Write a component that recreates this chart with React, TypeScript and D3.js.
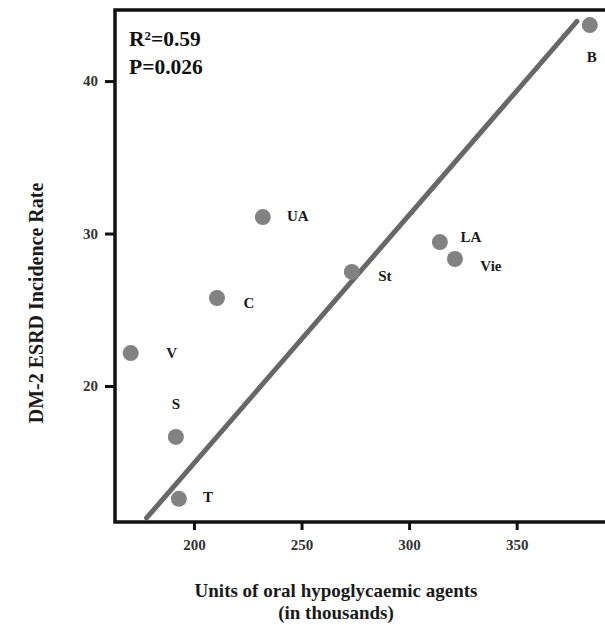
import React, { useEffect, useRef } from "react";
import * as d3 from "d3";

// regions
const regions = ["V", "S", "T", "C", "UA", "St", "LA", "Vie", "B"];
const units = [170.6, 191.6, 193, 210.7, 232, 273.4, 314.3, 321.3, 384];
const esrdRate = [22.16, 16.66, 12.6, 25.77, 31.08, 27.48, 29.44, 28.33, 43.67];

const xTicks = [200, 250, 300, 350];
const yTicks = [20, 30, 40];

// fitted line as drawn in the figure
const fitSlope = 0.1628;
const fitIntercept = -17.63;
const fitRange = [178, 378];

const statsText = ["R²=0.59", "P=0.026"];

// where each name sits next to its dot (px)
const labelOffset: Record<string, [number, number]> = {
  V: [41, 0],
  S: [0, -33],
  T: [29, -2],
  C: [32, 5],
  UA: [35, -1],
  St: [33, 4],
  LA: [31, -5],
  Vie: [36, 7],
  B: [2, 32],
};

const FONT = "'Liberation Serif', 'Times New Roman', serif";

export default function App() {
  const ref = useRef<SVGSVGElement>(null);

  useEffect(() => {
    const width = 605;
    const height = 625;
    const frame = { left: 115, top: 10, right: 618, bottom: 522 };

    const svg = d3.select(ref.current);
    svg.selectAll("*").remove();

    const x = d3.scaleLinear().domain([163.3, 397.1]).range([frame.left, frame.right]);
    const y = d3.scaleLinear().domain([11.08, 44.66]).range([frame.bottom, frame.top]);

    svg.append("rect").attr("width", width).attr("height", height).attr("fill", "#fff");

    // axes with outward ticks
    const xAxis = d3.axisBottom(x).tickValues(xTicks).tickSize(8).tickSizeOuter(0).tickPadding(9);
    const yAxis = d3.axisLeft(y).tickValues(yTicks).tickSize(10).tickSizeOuter(0).tickPadding(7);

    const gx = svg.append("g").attr("transform", `translate(0, ${frame.bottom})`).call(xAxis);
    const gy = svg.append("g").attr("transform", `translate(${frame.left}, 0)`).call(yAxis);

    [gx, gy].forEach((g) => {
      g.select(".domain").remove();
      g.selectAll(".tick line").attr("stroke", "#111").attr("stroke-width", 3);
      g.selectAll(".tick text")
        .attr("fill", "#333")
        .style("font-family", FONT)
        .style("font-weight", "bold")
        .style("font-size", "15px");
    });

    // frame
    svg.append("rect")
      .attr("x", frame.left)
      .attr("y", frame.top)
      .attr("width", frame.right - frame.left)
      .attr("height", frame.bottom - frame.top)
      .attr("fill", "none")
      .attr("stroke", "#111")
      .attr("stroke-width", 3.5);

    // regression line
    const line = d3.line<number>().x((d) => x(d)).y((d) => y(fitIntercept + fitSlope * d));
    svg.append("path")
      .datum(fitRange)
      .attr("d", line)
      .attr("fill", "none")
      .attr("stroke", "#686868")
      .attr("stroke-width", 5)
      .attr("stroke-linecap", "round");

    const pts = regions.map((name, i) => ({ name, u: units[i], r: esrdRate[i] }));

    svg.append("g")
      .selectAll("circle")
      .data(pts)
      .join("circle")
      .attr("cx", (d) => x(d.u))
      .attr("cy", (d) => y(d.r))
      .attr("r", 8)
      .attr("fill", "#828282");

    svg.append("g")
      .selectAll("text")
      .data(pts)
      .join("text")
      .attr("x", (d) => x(d.u) + labelOffset[d.name][0])
      .attr("y", (d) => y(d.r) + labelOffset[d.name][1])
      .attr("text-anchor", "middle")
      .attr("dominant-baseline", "central")
      .attr("fill", "#1a1a1a")
      .style("font-family", FONT)
      .style("font-weight", "bold")
      .style("font-size", "15px")
      .text((d) => d.name);

    svg.append("g")
      .selectAll("text")
      .data(statsText)
      .join("text")
      .attr("x", 129)
      .attr("y", (_, i) => 46 + i * 28)
      .attr("fill", "#111")
      .style("font-family", FONT)
      .style("font-weight", "bold")
      .style("font-size", "21.5px")
      .text((d) => d);

    // axis titles
    svg.append("text")
      .attr("text-anchor", "middle")
      .attr("transform", `translate(43, 303) rotate(-90)`)
      .attr("fill", "#1a1a1a")
      .style("font-family", FONT)
      .style("font-weight", "bold")
      .style("font-size", "20px")
      .text("DM-2 ESRD Incidence Rate");

    svg.append("text")
      .attr("text-anchor", "middle")
      .attr("x", 336)
      .attr("y", 597)
      .attr("fill", "#1a1a1a")
      .style("font-family", FONT)
      .style("font-weight", "bold")
      .style("font-size", "19px")
      .text("Units of oral hypoglycaemic agents");

    svg.append("text")
      .attr("text-anchor", "middle")
      .attr("x", 336)
      .attr("y", 619)
      .attr("fill", "#1a1a1a")
      .style("font-family", FONT)
      .style("font-weight", "bold")
      .style("font-size", "19px")
      .text("(in thousands)");
  }, []);

  return (
    <svg
      ref={ref}
      width={605}
      height={625}
      style={{ position: "absolute", left: 0, top: 0, overflow: "hidden" }}
    />
  );
}
